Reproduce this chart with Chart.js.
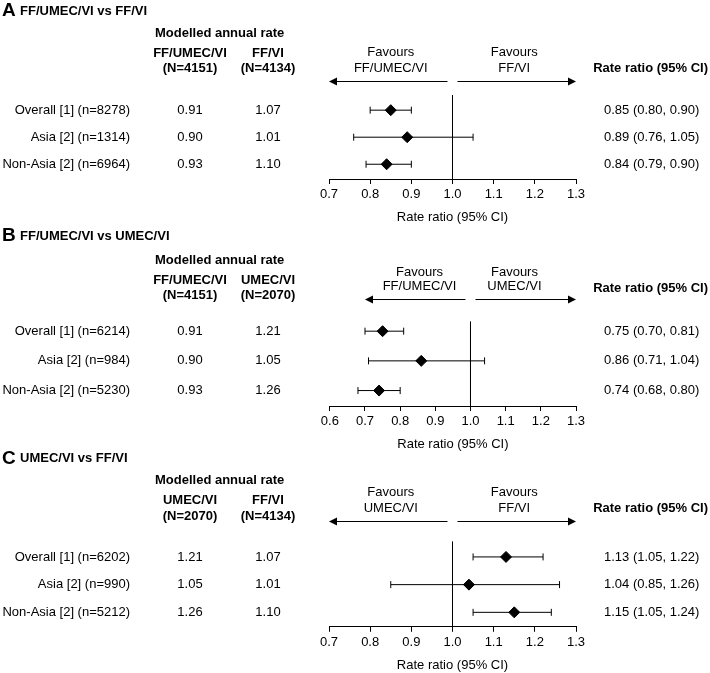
<!DOCTYPE html>
<html>
<head>
<meta charset="utf-8">
<script src="https://cdn.jsdelivr.net/npm/chart.js@4.4.1/dist/chart.umd.min.js"></script>
<style>
  html, body { margin: 0; padding: 0; background: #fff; }
  body { width: 710px; height: 673px; position: relative; overflow: hidden; }
  canvas.panel { position: absolute; left: 0; }
</style>
</head>
<body>
<canvas id="panelA" class="panel"></canvas>
<canvas id="panelB" class="panel"></canvas>
<canvas id="panelC" class="panel"></canvas>
<script>
// Panel A: FF/UMEC/VI vs FF/VI
const titleA = 'FF/UMEC/VI vs FF/VI';
const rowLabelsA = ['Overall [1] (n=8278)', 'Asia [2] (n=1314)', 'Non-Asia [2] (n=6964)'];
const groupsA = ['FF/UMEC/VI', 'FF/VI'];
const groupNA = ['(N=4151)', '(N=4134)'];
const rate1A = [0.91, 0.90, 0.93];
const rate2A = [1.07, 1.01, 1.10];
const ratioA = [0.85, 0.89, 0.84];
const lowerA = [0.80, 0.76, 0.79];
const upperA = [0.90, 1.05, 0.90];
const favoursA = ['FF/UMEC/VI', 'FF/VI'];
const ticksA = [0.7, 0.8, 0.9, 1.0, 1.1, 1.2, 1.3];

// Panel B: FF/UMEC/VI vs UMEC/VI
const titleB = 'FF/UMEC/VI vs UMEC/VI';
const rowLabelsB = ['Overall [1] (n=6214)', 'Asia [2] (n=984)', 'Non-Asia [2] (n=5230)'];
const groupsB = ['FF/UMEC/VI', 'UMEC/VI'];
const groupNB = ['(N=4151)', '(N=2070)'];
const rate1B = [0.91, 0.90, 0.93];
const rate2B = [1.21, 1.05, 1.26];
const ratioB = [0.75, 0.86, 0.74];
const lowerB = [0.70, 0.71, 0.68];
const upperB = [0.81, 1.04, 0.80];
const favoursB = ['FF/UMEC/VI', 'UMEC/VI'];
const ticksB = [0.6, 0.7, 0.8, 0.9, 1.0, 1.1, 1.2, 1.3];

// Panel C: UMEC/VI vs FF/VI
const titleC = 'UMEC/VI vs FF/VI';
const rowLabelsC = ['Overall [1] (n=6202)', 'Asia [2] (n=990)', 'Non-Asia [2] (n=5212)'];
const groupsC = ['UMEC/VI', 'FF/VI'];
const groupNC = ['(N=2070)', '(N=4134)'];
const rate1C = [1.21, 1.05, 1.26];
const rate2C = [1.07, 1.01, 1.10];
const ratioC = [1.13, 1.04, 1.15];
const lowerC = [1.05, 0.85, 1.05];
const upperC = [1.22, 1.26, 1.24];
const favoursC = ['UMEC/VI', 'FF/VI'];
const ticksC = [0.7, 0.8, 0.9, 1.0, 1.1, 1.2, 1.3];

const FONT = '"Liberation Sans", Arial, Helvetica, sans-serif';
const INK = '#000';

// page positions of each panel (y in page pixels)
const layoutA = { top: 0, height: 230, padTop: 95, padBottom: 0.8, padLeft: 329, yMin: -0.561, yMax: 2.546,
  letter: 'A', titleY: 10, modelledY: 33, headY: [53, 68], favY: [52.7, 68], favX: [0.85, 1.15],
  rrHeadY: 68, arrowY: 81 };
const layoutB = { top: 225, height: 232, padTop: 96.7, padBottom: 0.8, padLeft: 329.83, yMin: -0.319, yMax: 2.52,
  letter: 'B', titleY: 235, modelledY: 260.7, headY: [280, 295], favY: [272.7, 286.7], favX: [0.855, 1.125],
  rrHeadY: 288, arrowY: 299 };
const layoutC = { top: 445, height: 232, padTop: 96.7, padBottom: 0, padLeft: 329, yMin: -0.55, yMax: 2.522,
  letter: 'C', titleY: 457.3, modelledY: 480.7, headY: [500.7, 516], favY: [492.7, 508.3], favX: [0.85, 1.15],
  rrHeadY: 508.3, arrowY: 521 };

function fmt(v) { return v.toFixed(2); }

function textPlugin(p) {
  return {
    id: 'forestText' + p.layout.letter,
    afterDraw(chart) {
      const ctx = chart.ctx;
      const L = p.layout;
      const off = L.top;
      const x = chart.scales.x;
      const y = chart.scales.y;
      ctx.save();
      ctx.fillStyle = INK;
      ctx.strokeStyle = INK;
      ctx.textBaseline = 'middle';

      // panel title
      ctx.textAlign = 'left';
      ctx.font = 'bold 19px ' + FONT;
      ctx.fillText(L.letter, 2, L.titleY - off + 1);
      ctx.font = 'bold 13px ' + FONT;
      ctx.fillText(p.title, 20, L.titleY - off + 1);

      // column headers
      ctx.fillText('Modelled annual rate', 155, L.modelledY - off);
      ctx.textAlign = 'center';
      const colX = [190, 268];
      p.groups.forEach((g, i) => {
        ctx.fillText(g, colX[i], L.headY[0] - off);
        ctx.fillText(p.groupN[i], colX[i], L.headY[1] - off);
      });
      ctx.textAlign = 'right';
      ctx.fillText('Rate ratio (95% CI)', 708, L.rrHeadY - off);

      // rows
      ctx.font = '13px ' + FONT;
      p.labels.forEach((lab, i) => {
        const py = y.getPixelForValue(i);
        ctx.textAlign = 'right';
        ctx.fillText(lab, 130, py);
        ctx.textAlign = 'center';
        ctx.fillText(fmt(p.rate1[i]), colX[0], py);
        ctx.fillText(fmt(p.rate2[i]), colX[1], py);
        ctx.textAlign = 'left';
        ctx.fillText(fmt(p.ratio[i]) + ' (' + fmt(p.lower[i]) + ', ' + fmt(p.upper[i]) + ')', 604, py);
      });

      // favours labels
      ctx.textAlign = 'center';
      p.favours.forEach((f, i) => {
        const fx = x.getPixelForValue(L.favX[i]);
        ctx.fillText('Favours', fx, L.favY[0] - off);
        ctx.fillText(f, fx, L.favY[1] - off);
      });

      // arrows
      const ay = Math.round(L.arrowY - off) + 0.5;
      const ref = x.getPixelForValue(1);
      const xl = x.getPixelForValue(0.7);
      const xr = x.getPixelForValue(1.3);
      ctx.lineWidth = 1;
      ctx.beginPath();
      ctx.moveTo(xl + 6, ay); ctx.lineTo(ref - 5, ay);
      ctx.moveTo(ref + 5, ay); ctx.lineTo(xr - 6, ay);
      ctx.stroke();
      ctx.beginPath();
      ctx.moveTo(xl, ay); ctx.lineTo(xl + 8, ay - 4); ctx.lineTo(xl + 8, ay + 4); ctx.closePath();
      ctx.moveTo(xr, ay); ctx.lineTo(xr - 8, ay - 4); ctx.lineTo(xr - 8, ay + 4); ctx.closePath();
      ctx.fill();
      ctx.restore();
    }
  };
}

function makePanel(id, p) {
  const L = p.layout;
  const canvas = document.getElementById(id);
  canvas.width = 710;
  canvas.height = L.height;
  canvas.style.top = L.top + 'px';
  canvas.style.width = '710px';
  canvas.style.height = L.height + 'px';

  const datasets = [];
  // line of no effect
  datasets.push({
    type: 'line',
    data: [{ x: 1, y: L.yMin }, { x: 1, y: L.yMax }],
    borderColor: INK, borderWidth: 1, pointRadius: 0
  });
  // confidence intervals with end caps
  p.ratio.forEach((r, i) => {
    datasets.push({
      type: 'line',
      data: [{ x: p.lower[i], y: i }, { x: p.upper[i], y: i }],
      borderColor: INK, borderWidth: 1,
      pointStyle: 'line', rotation: 90, pointRadius: 3.5,
      pointBorderColor: INK, pointBorderWidth: 1
    });
  });
  // point estimates
  datasets.push({
    type: 'scatter',
    data: p.ratio.map((r, i) => ({ x: r, y: i })),
    pointStyle: 'rectRot', pointRadius: 5.5,
    backgroundColor: INK, borderColor: INK, borderWidth: 1
  });

  return new Chart(canvas, {
    type: 'scatter',
    data: { datasets: datasets },
    options: {
      responsive: false,
      animation: false,
      devicePixelRatio: 1,
      clip: false,
      layout: { padding: { top: L.padTop, left: L.padLeft, right: 134, bottom: L.padBottom } },
      plugins: { legend: { display: false }, tooltip: { enabled: false } },
      scales: {
        x: {
          type: 'linear',
          min: p.ticks[0],
          max: p.ticks[p.ticks.length - 1],
          afterBuildTicks: s => { s.ticks = p.ticks.map(v => ({ value: v })); },
          ticks: {
            callback: v => Number(v).toFixed(1),
            font: { family: FONT, size: 13 },
            color: INK, padding: 3, maxRotation: 0, autoSkip: false
          },
          grid: { drawOnChartArea: false, drawTicks: true, tickLength: 5, color: INK, lineWidth: 1 },
          border: { display: true, color: INK, width: 1 },
          title: {
            display: true, text: 'Rate ratio (95% CI)',
            font: { family: FONT, size: 13 }, color: INK,
            padding: { top: 4, bottom: 4 }
          }
        },
        y: { type: 'linear', display: false, reverse: true, min: L.yMin, max: L.yMax }
      }
    },
    plugins: [textPlugin(p)]
  });
}

makePanel('panelA', {
  layout: layoutA, title: titleA, labels: rowLabelsA, groups: groupsA, groupN: groupNA,
  rate1: rate1A, rate2: rate2A, ratio: ratioA, lower: lowerA, upper: upperA,
  favours: favoursA, ticks: ticksA
});
makePanel('panelB', {
  layout: layoutB, title: titleB, labels: rowLabelsB, groups: groupsB, groupN: groupNB,
  rate1: rate1B, rate2: rate2B, ratio: ratioB, lower: lowerB, upper: upperB,
  favours: favoursB, ticks: ticksB
});
makePanel('panelC', {
  layout: layoutC, title: titleC, labels: rowLabelsC, groups: groupsC, groupN: groupNC,
  rate1: rate1C, rate2: rate2C, ratio: ratioC, lower: lowerC, upper: upperC,
  favours: favoursC, ticks: ticksC
});
</script>
</body>
</html>
